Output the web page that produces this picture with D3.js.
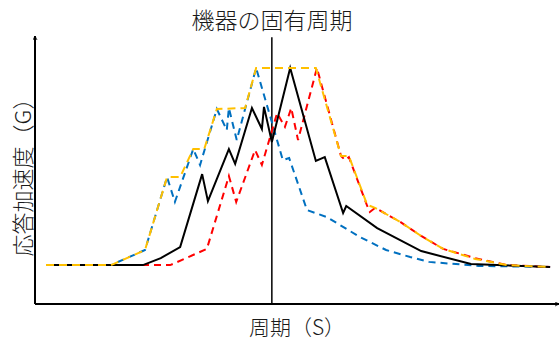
<!DOCTYPE html>
<html><head><meta charset="utf-8">
<script src="https://cdn.jsdelivr.net/npm/d3@7"></script>
<style>
html,body{margin:0;padding:0;background:#fff;}
text{font-family:"Noto Sans CJK JP","Noto Sans",sans-serif;fill:#1a1a1a;font-weight:300;}
</style></head>
<body>
<svg id="chart" width="560" height="341"></svg>
<script>
// Data (period units 0-100, response acceleration units 0-100)
const titleText = "機器の固有周期";
const xLabel = "周期（S）";
const yLabel = "応答加速度（G）";
const naturalPeriod = 45.2;

const orangeSeries = [[2.1,14.4],[14.5,14.4],[21.0,20.0],[25.2,47.0],[27.7,47.0],[30.2,57.4],[32.3,57.4],[34.7,72.2],[40.1,72.6],[42.2,87.4],[53.6,87.4],[58.4,54.8],[59.9,54.8],[63.4,36.7],[64.9,35.6],[69.7,30.4],[73.7,25.2],[77.9,20.4],[84.0,16.7],[90.1,14.4],[98.3,13.7]];
const blueSeries = [[2.1,14.4],[14.5,14.4],[21.0,20.0],[25.2,47.0],[26.7,37.8],[30.2,57.4],[31.5,51.5],[34.7,72.2],[36.6,64.4],[37.0,72.6],[38.5,60.7],[42.2,87.4],[47.3,53.3],[48.5,54.1],[51.9,34.8],[55.7,32.2],[62.0,24.8],[67.0,20.0],[71.6,17.4],[75.2,15.6],[84.7,14.1],[98.3,13.7]];
const blackSeries = [[2.1,14.4],[20.6,14.4],[24.0,17.0],[27.7,21.1],[31.9,48.1],[33.0,38.1],[37.0,57.4],[38.2,51.9],[41.4,72.6],[43.3,64.8],[43.7,73.0],[45.2,60.0],[48.7,87.4],[53.6,53.0],[55.3,54.4],[58.8,33.7],[59.4,36.3],[65.3,28.1],[73.7,19.6],[83.2,14.8],[98.3,13.7]];
const redSeries = [[2.1,14.4],[25.8,14.4],[32.8,20.4],[37.0,47.4],[38.4,37.8],[42.0,57.0],[43.3,51.5],[46.2,70.7],[47.7,65.6],[48.9,72.6],[50.2,60.7],[53.8,87.4],[58.4,54.8],[59.2,53.3],[59.9,54.4],[63.4,36.3],[63.9,34.1],[64.9,35.6],[69.7,30.4],[73.7,25.2],[77.9,20.4],[84.0,17.0],[90.1,14.4],[98.3,13.7]];

const svg = d3.select("#chart");
const x = d3.scaleLinear().domain([0,100]).range([35,559]);
const y = d3.scaleLinear().domain([0,100]).range([304,34]);

// axes with arrows
const defs = svg.append("defs");
defs.append("marker").attr("id","arr").attr("viewBox","0 0 10 10")
  .attr("refX",9).attr("refY",5).attr("markerWidth",5).attr("markerHeight",5)
  .attr("orient","auto-start-reverse").attr("markerUnits","userSpaceOnUse")
  .append("path").attr("d","M1,1 L9,5 L1,9").attr("fill","none").attr("stroke","#000").attr("stroke-width",1.6);

svg.append("line").attr("x1",x(0)).attr("x2",x(0)).attr("y1",y(0)).attr("y2",y(100)+2)
  .attr("stroke","#000").attr("stroke-width",2).attr("marker-end","url(#arr)");
svg.append("line").attr("x1",x(0)).attr("x2",x(100)).attr("y1",y(0)).attr("y2",y(0))
  .attr("stroke","#000").attr("stroke-width",2).attr("marker-end","url(#arr)");

// natural period line
svg.append("line").attr("x1",x(naturalPeriod)).attr("x2",x(naturalPeriod))
  .attr("y1",y(98.8)).attr("y2",y(0)).attr("stroke","#000").attr("stroke-width",1.5);

const line = d3.line().x(d=>x(d[0])).y(d=>y(d[1]));
const series = [
  {data: blueSeries, color:"#0070C0", dash:"7,5"},
  {data: redSeries, color:"#FF0000", dash:"7,5"},
  {data: blackSeries, color:"#000000", dash:null},
  {data: orangeSeries, color:"#FFC000", dash:"8,5"}
];
series.forEach(s=>{
  svg.append("path").datum(s.data).attr("d",line).attr("fill","none")
    .attr("stroke",s.color).attr("stroke-width",2)
    .attr("stroke-linejoin","miter")
    .attr("stroke-dasharray",s.dash);
});

svg.append("text").attr("x",272).attr("y",29).attr("text-anchor","middle")
  .attr("font-size",23).text(titleText);
svg.append("text").attr("x",297).attr("y",335).attr("text-anchor","middle")
  .attr("font-size",21).text(xLabel);
svg.append("text").attr("transform","translate(31,172) rotate(-90)").attr("text-anchor","middle")
  .attr("font-size",22).text(yLabel);
</script>
</body></html>
